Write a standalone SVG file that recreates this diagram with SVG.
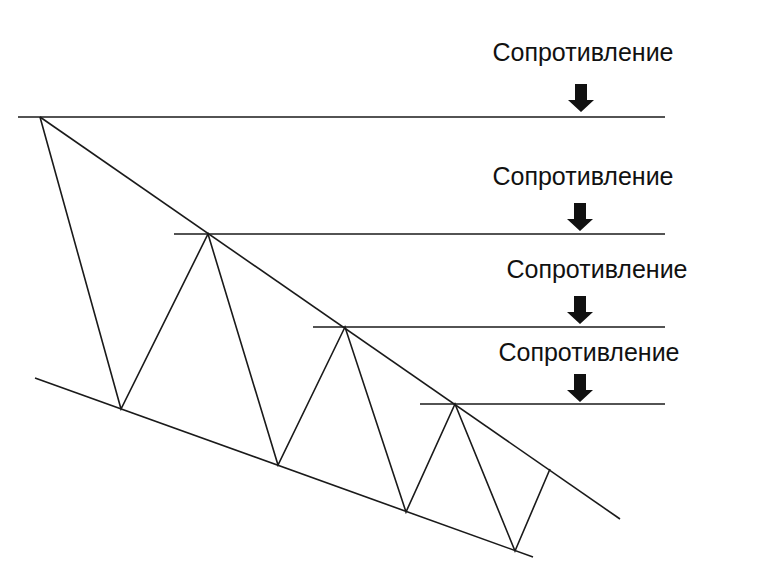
<svg xmlns="http://www.w3.org/2000/svg" width="768" height="576" viewBox="0 0 768 576">
<style>
.l{stroke:#1a1a1a;stroke-width:1.6;fill:none}
.t{font-family:"Liberation Sans",Arial,sans-serif;font-size:25px;fill:#111;text-anchor:middle}
</style>
<defs><path id="ar" d="M-6,0H6V16H13L0,28L-13,16H-6Z" fill="#111"/></defs>
<rect width="768" height="576" fill="#fff"/>
<g id="connectors">
<line class="l" x1="18" y1="117" x2="665" y2="117"/>
<line class="l" x1="174" y1="234" x2="665" y2="234"/>
<line class="l" x1="313" y1="327" x2="665" y2="327"/>
<line class="l" x1="420" y1="404" x2="665" y2="404"/>
<line class="l" x1="40" y1="117" x2="620" y2="519"/>
<line class="l" x1="35" y1="378" x2="533" y2="557"/>
<polyline class="l" points="40,117 121,409 208,234 278,465 345,327 406,512 455,404 515,551 550,469"/>
</g>
<g id="r1"><text class="t" x="583" y="61">Сопротивление</text><use href="#ar" x="581" y="84"/></g>
<g id="r2"><text class="t" x="583" y="185">Сопротивление</text><use href="#ar" x="580" y="203"/></g>
<g id="r3"><text class="t" x="597" y="278">Сопротивление</text><use href="#ar" x="580" y="296"/></g>
<g id="r4"><text class="t" x="589" y="361">Сопротивление</text><use href="#ar" x="580" y="374"/></g>
</svg>
